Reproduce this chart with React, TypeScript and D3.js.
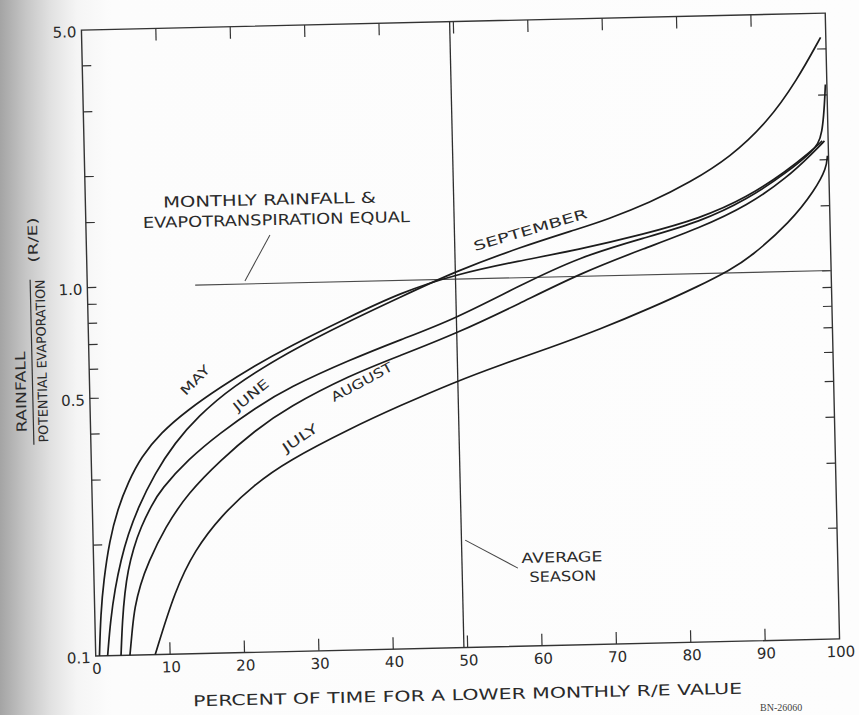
import React from "react";
import * as d3 from "d3";

// ---- data (x = percent of time, y = R/E) ----
const MAY_X = [0.5, 0.8, 1.3, 2.2, 3.4, 4.9, 6.7, 9.4, 13.1, 17.6, 22.3, 26.8, 35, 42, 49.5, 58, 66, 75, 82.5, 89, 94.4, 97.5, 99.2];
const MAY_Y = [0.1, 0.13, 0.16, 0.205, 0.25, 0.295, 0.344, 0.399, 0.459, 0.527, 0.6, 0.67, 0.8, 0.925, 1.03, 1.11, 1.18, 1.29, 1.41, 1.6, 1.88, 2.1, 2.25];

const SEPT_X = [1.6, 2.1, 2.8, 3.7, 4.7, 6.1, 8.5, 11.3, 14.5, 19, 26.8, 35, 42, 49.5, 58.3, 66.4, 70, 75.9, 81.3, 86.8, 91.9, 96, 99.3];
const SEPT_Y = [0.1, 0.125, 0.152, 0.182, 0.212, 0.25, 0.31, 0.375, 0.44, 0.525, 0.65, 0.78, 0.9, 1.05, 1.21, 1.35, 1.42, 1.57, 1.77, 2.06, 2.55, 3.3, 4.3];

const JUNE_X = [3.4, 3.7, 4.1, 4.6, 5.4, 6.45, 8, 9.25, 13, 17.5, 22.2, 26.7, 35.2, 41.9, 49.3, 58, 66.3, 75, 82.5, 89, 94.4, 98, 99.3, 99.8];
const JUNE_Y = [0.1, 0.125, 0.148, 0.17, 0.195, 0.222, 0.255, 0.28, 0.337, 0.397, 0.46, 0.52, 0.615, 0.69, 0.78, 0.95, 1.13, 1.26, 1.38, 1.58, 1.86, 2.12, 2.3, 3.2];

const AUG_X = [4.6, 5.0, 5.4, 6.2, 7.3, 9.7, 12.9, 17.4, 22.1, 26.6, 35, 41.8, 49.3, 58, 66.3, 75, 82.5, 89, 94.4, 98, 99.5];
const AUG_Y = [0.1, 0.118, 0.135, 0.155, 0.177, 0.221, 0.273, 0.334, 0.4, 0.46, 0.557, 0.625, 0.71, 0.85, 1.02, 1.18, 1.33, 1.52, 1.8, 2.1, 2.25];

const JULY_X = [8, 10.85, 13.65, 17.2, 21.9, 26.4, 34.85, 41.6, 49.2, 55.2, 62, 68.8, 75.6, 82.4, 86.4, 89.2, 94.65, 98.1, 99.7, 99.85];
const JULY_Y = [0.1, 0.149, 0.191, 0.235, 0.286, 0.329, 0.399, 0.457, 0.527, 0.581, 0.643, 0.717, 0.811, 0.929, 1.018, 1.1, 1.36, 1.66, 1.9, 2.05];

const SERIES_X = [MAY_X, SEPT_X, JUNE_X, AUG_X, JULY_X];
const SERIES_Y = [MAY_Y, SEPT_Y, JUNE_Y, AUG_Y, JULY_Y];

const X_TICKS = [0, 10, 20, 30, 40, 50, 60, 70, 80, 90, 100];
const Y_LABEL_VALUES = [0.1, 0.5, 1.0, 5.0];
const Y_LABEL_TEXT = ["0.1", "0.5", "1.0", "5.0"];
const Y_MINOR = [0.2, 0.3, 0.4, 0.5, 0.6, 0.7, 0.8, 0.9, 1.0, 1.5, 2, 3, 4];

const EQUAL_LINE_START = 14.5; // percent where R/E = 1 line starts
const EQUAL_VALUE = 1.0;
const AVERAGE_SEASON = 49.5;

// labels: [text, x%, R/E, angle, length]
const MONTH_LABELS: [string, number, number, number, number][] = [
  ["MAY", 14.2, 0.552, -44, 36],
  ["JUNE", 21.65, 0.499, -38, 42],
  ["AUGUST", 36.6, 0.533, -27, 68],
  ["JULY", 28.1, 0.379, -33, 40],
  ["SEPTEMBER", 59.7, 1.345, -15, 118],
];

const INK = "#2a2a2a";
const FONT = "'DejaVu Sans', 'Liberation Sans', sans-serif";

export default function App() {
  const W = 859, H = 715;
  const L = 88.5, R = 832.5, T = 21.5, B = 647.5;
  const x = d3.scaleLinear().domain([0, 100]).range([L, R]);
  const y = d3.scaleLog().domain([0.1, 5]).range([B, T]);
  const line = d3
    .line<[number, number]>()
    .x((d) => x(d[0]))
    .y((d) => y(d[1]))
    .curve(d3.curveBasis);

  const paths = SERIES_X.map((xs, i) =>
    line(xs.map((v, j) => [v, SERIES_Y[i][j]] as [number, number]))
  );

  return (
    <svg
      width={W}
      height={H}
      viewBox={`0 0 ${W} ${H}`}
      style={{ position: "absolute", left: 0, top: 0, display: "block" }}
    >
      <defs>
        <linearGradient id="scan" x1="0" x2="1" y1="0" y2="0">
          <stop offset="0" stopColor="#a4a4a4" />
          <stop offset="0.03" stopColor="#c6c6c6" />
          <stop offset="0.06" stopColor="#e2e2e2" />
          <stop offset="0.09" stopColor="#f5f5f5" />
          <stop offset="0.13" stopColor="#fcfcfc" />
          <stop offset="1" stopColor="#fdfdfd" />
        </linearGradient>
      </defs>
      <rect x={0} y={0} width={W} height={H} fill="url(#scan)" />

      <g transform="rotate(-1.31, 461.5, 335)">
        {/* frame */}
        <rect x={L} y={T} width={R - L} height={B - T} fill="none" stroke="#333" strokeWidth={1.4} />

        {/* x ticks bottom & top */}
        {X_TICKS.slice(1, -1).map((t) => (
          <g key={"xt" + t}>
            <line x1={x(t)} x2={x(t)} y1={B} y2={B - 12} stroke="#333" strokeWidth={1.2} />
            <line x1={x(t)} x2={x(t)} y1={T} y2={T + 12} stroke="#333" strokeWidth={1.2} />
          </g>
        ))}
        {X_TICKS.map((t) => (
          <text
            key={"xl" + t}
            x={x(t) + 1}
            y={B + 13}
            textAnchor="middle"
            dominantBaseline="central"
            fontFamily={FONT}
            fontSize={15}
            fill={INK}
          >
            {t}
          </text>
        ))}

        {/* y ticks left & right */}
        {Y_MINOR.map((t) => (
          <g key={"yt" + t}>
            <line x1={L} x2={L + 9} y1={y(t)} y2={y(t)} stroke="#333" strokeWidth={1.2} />
            <line x1={R} x2={R - 9} y1={y(t)} y2={y(t)} stroke="#333" strokeWidth={1.2} />
          </g>
        ))}
        {Y_LABEL_VALUES.map((t, i) => (
          <text
            key={"yl" + t}
            x={L - 5}
            y={y(t) + 2}
            textAnchor="end"
            dominantBaseline="central"
            fontFamily={FONT}
            fontSize={15}
            fill={INK}
          >
            {Y_LABEL_TEXT[i]}
          </text>
        ))}

        {/* reference lines */}
        <line
          x1={x(EQUAL_LINE_START)}
          x2={x(100)}
          y1={y(EQUAL_VALUE)}
          y2={y(EQUAL_VALUE)}
          stroke="#4a4a4a"
          strokeWidth={1.1}
        />
        <line
          x1={x(AVERAGE_SEASON)}
          x2={x(AVERAGE_SEASON)}
          y1={y(0.1)}
          y2={y(5)}
          stroke="#2e2e2e"
          strokeWidth={1.3}
        />

        {/* curves */}
        {paths.map((d, i) => (
          <path key={"c" + i} d={d || ""} fill="none" stroke="#1c1c1c" strokeWidth={1.7} />
        ))}

        {/* month labels */}
        {MONTH_LABELS.map(([txt, px, pv, ang, len]) => (
          <text
            key={txt}
            x={x(px)}
            y={y(pv)}
            transform={`rotate(${ang}, ${x(px)}, ${y(pv)})`}
            textAnchor="middle"
            dominantBaseline="central"
            fontFamily={FONT}
            fontSize={13}
            fill={INK}
            textLength={len}
            lengthAdjust="spacingAndGlyphs"
          >
            {txt}
          </text>
        ))}

        {/* equality annotation */}
        <text x={x(24.75)} y={y(1.684)} textAnchor="middle" dominantBaseline="central"
          fontFamily={FONT} fontSize={15} fill={INK} textLength={213} lengthAdjust="spacingAndGlyphs">
          MONTHLY RAINFALL &amp;
        </text>
        <text x={x(25.6)} y={y(1.485)} textAnchor="middle" dominantBaseline="central"
          fontFamily={FONT} fontSize={15} fill={INK} textLength={267} lengthAdjust="spacingAndGlyphs">
          EVAPOTRANSPIRATION EQUAL
        </text>
        <line x1={x(24.7)} y1={y(1.353)} x2={x(21.2)} y2={y(1.019)} stroke="#444" strokeWidth={1} />

        {/* average season annotation */}
        <text x={x(62.95)} y={y(0.1735)} textAnchor="middle" dominantBaseline="central"
          fontFamily={FONT} fontSize={14} fill={INK} textLength={81} lengthAdjust="spacingAndGlyphs">
          AVERAGE
        </text>
        <text x={x(63.0)} y={y(0.154)} textAnchor="middle" dominantBaseline="central"
          fontFamily={FONT} fontSize={14} fill={INK} textLength={67} lengthAdjust="spacingAndGlyphs">
          SEASON
        </text>
        <line x1={x(50.0)} y1={y(0.1956)} x2={x(57.0)} y2={y(0.163)} stroke="#444" strokeWidth={1} />

        {/* axis titles */}
        <text x={459.3} y={695} textAnchor="middle" dominantBaseline="central"
          fontFamily={FONT} fontSize={15} fill={INK} textLength={549} lengthAdjust="spacingAndGlyphs">
          PERCENT OF TIME FOR A LOWER MONTHLY R/E VALUE
        </text>
        <text x={19.7} y={381.9} transform="rotate(-90, 19.7, 381.9)" textAnchor="middle" dominantBaseline="central"
          fontFamily={FONT} fontSize={14} fill={INK} textLength={81} lengthAdjust="spacingAndGlyphs">
          RAINFALL
        </text>
        <line x1={31.5} x2={31.5} y1={270} y2={435} stroke="#333" strokeWidth={1.2} />
        <text x={41.4} y={351.4} transform="rotate(-90, 41.4, 351.4)" textAnchor="middle" dominantBaseline="central"
          fontFamily={FONT} fontSize={13} fill={INK} textLength={163} lengthAdjust="spacingAndGlyphs">
          POTENTIAL EVAPORATION
        </text>
        <text x={35.2} y={230.2} transform="rotate(-90, 35.2, 230.2)" textAnchor="middle" dominantBaseline="central"
          fontFamily={FONT} fontSize={13} fill={INK} textLength={45} lengthAdjust="spacingAndGlyphs">
          (R/E)
        </text>
      </g>

      <text x={760} y={711} fontFamily="'Liberation Serif', serif" fontSize={10} fill="#444">
        BN-26060
      </text>
    </svg>
  );
}
